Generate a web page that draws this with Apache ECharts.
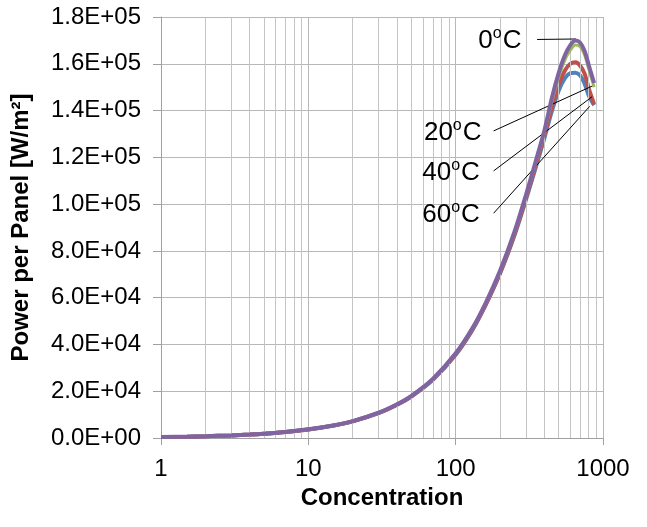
<!DOCTYPE html>
<html>
<head>
<meta charset="utf-8">
<script src="https://cdn.jsdelivr.net/npm/echarts@6/dist/echarts.min.js"></script>
<style>
html,body{margin:0;padding:0;background:#fff;}
#chart{width:647px;height:527px;}
</style>
</head>
<body>
<div id="chart"></div>
<script>
// ---- data ----
const concentration = [1,1.5,2,3,4,5,7,10,15,20,30,40,50,70,100,130,160,200,250,300,350,400,450,500,550,600,650,700,750,800,870];
const power0C  = [380,570,750,1120,1480,1850,2580,3700,5450,7200,10800,14400,18000,25300,36200,47000,57800,71500,88000,104000,118500,131500,145500,156000,163500,168000,169900,169000,165500,159500,151800];
const power20C = [378,567,746,1114,1473,1841,2567,3680,5420,7160,10740,14330,17910,25170,36000,46750,57500,71100,87500,103400,117800,130600,144000,154200,161500,165800,168000,167300,163800,157800,150000];
const power40C = [376,564,742,1109,1465,1832,2554,3660,5400,7130,10690,14250,17820,25050,35800,46500,57200,70700,87000,102700,116900,129500,141500,151000,157000,160000,160600,159200,155800,149500,142700];
const power60C = [374,561,739,1103,1458,1822,2541,3640,5370,7090,10640,14180,17730,24920,35600,46200,56900,70300,86400,101900,115800,128200,139800,148500,153800,156000,156200,155000,151500,146500,142300];
const seriesNames = ['60°C','40°C','20°C','0°C'];
const yTickValues = [0,20000,40000,60000,80000,100000,120000,140000,160000,180000];
const yTickLabels = ['0.0E+00','2.0E+04','4.0E+04','6.0E+04','8.0E+04','1.0E+05','1.2E+05','1.4E+05','1.6E+05','1.8E+05'];
const xTickLabels = {1:'1',10:'10',100:'100',1000:'1000'};
const minorGridX = [2,3,4,5,6,7,8,9,20,30,40,50,60,70,80,90,200,300,400,500,600,700,800,900];
// annotation: label text, label anchor [conc, power], leader line start and end [conc, power]
const annoText = ['0','20','40','60'];
const annoLabelAt = [[282,169800],[151,130600],[147,113500],[147,95500]];
const annoLineFrom = [[357,170400],[181,131300],[181,114200],[181,96100]];
const annoLineTo   = [[655,170600],[874,150900],[843,145900],[812,141800]];

// ---- chart ----
const FONT = 'Liberation Sans, Arial, sans-serif';
const colors = ['#4F81BD','#C0504D','#9BBB59','#8064A2'];
const allSeriesData = [power60C, power40C, power20C, power0C];

function pairs(vals){ return concentration.map((c,i)=>[c, vals[i]]); }

const series = allSeriesData.map((vals,i)=>({
  name: seriesNames[i],
  type: 'line',
  data: pairs(vals),
  smooth: 0.3,
  showSymbol: false,
  symbol: 'none',
  z: 3 + i,
  lineStyle: {color: colors[i], width: i===2 ? 3 : 4},
  itemStyle: {color: colors[i]},
  animation: false,
  silent: true
}));

// minor vertical grid lines
series.push({
  type: 'line', data: [], silent: true, animation: false, z: 1,
  markLine: {
    silent: true, animation: false, symbol: ['none','none'],
    label: {show: false},
    lineStyle: {color: '#c4c4c4', width: 1, type: 'solid'},
    data: minorGridX.map(v=>({xAxis: v}))
  }
});

// annotation leader lines
series.push({
  type: 'line', data: [], silent: true, animation: false, z: 10,
  markLine: {
    silent: true, animation: false, symbol: ['none','none'],
    label: {show: false},
    lineStyle: {color: '#000', width: 1, type: 'solid'},
    data: annoLineFrom.map((p,i)=>[{coord: p},{coord: annoLineTo[i]}])
  }
});

// annotation labels (scatter points with invisible symbols)
series.push({
  type: 'scatter', silent: true, animation: false, z: 11,
  symbolSize: 1,
  itemStyle: {color: '#ffffff', opacity: 0},
  data: annoLabelAt.map((p,i)=>({name: annoText[i], value: p})),
  label: {
    show: true, position: 'left', distance: 0, color: '#000', opacity: 1,
    formatter: p => '{n|' + p.name + '}{s|o}{n|C}',
    rich: {
      n: {fontFamily: FONT, fontSize: 26, color: '#000', lineHeight: 30, opacity: 1},
      s: {fontFamily: FONT, fontSize: 16, color: '#000', verticalAlign: 'top', lineHeight: 30, padding:[0,1,0,0], opacity: 1}
    }
  }
});

const chart = echarts.init(document.getElementById('chart'), null, {renderer: 'canvas'});
chart.setOption({
  animation: false,
  backgroundColor: '#fff',
  grid: {left: 161, right: 44, top: 17, bottom: 89, containLabel: false},
  xAxis: {
    type: 'log', logBase: 10, min: 1, max: 1000,
    name: 'Concentration', nameLocation: 'middle', nameGap: 46,
    nameTextStyle: {fontFamily: FONT, fontSize: 24, fontWeight: 'bold', color: '#000'},
    axisLine: {show: true, lineStyle: {color: '#a0a0a0', width: 1}},
    axisTick: {show: true, length: 7, inside: false, lineStyle: {color: '#a0a0a0'}},
    axisLabel: {fontFamily: FONT, fontSize: 24, color: '#000', margin: 19,
      formatter: v => xTickLabels[Math.round(v)] || ''},
    splitLine: {show: true, lineStyle: {color: '#b8b8b8', width: 1}},
    minorTick: {show: false}
  },
  yAxis: {
    type: 'value', min: 0, max: 180000, interval: 20000,
    name: 'Power per Panel [W/m²]', nameLocation: 'middle', nameGap: 128,
    nameTextStyle: {fontFamily: FONT, fontSize: 24, fontWeight: 'bold', color: '#000'},
    axisLine: {show: true, lineStyle: {color: '#a0a0a0', width: 1}},
    axisTick: {show: true, length: 8, inside: false, lineStyle: {color: '#a0a0a0'}},
    axisLabel: {fontFamily: FONT, fontSize: 24, color: '#000', margin: 20,
      formatter: v => { const k = yTickValues.indexOf(v); return k >= 0 ? yTickLabels[k] : ''; }},
    splitLine: {show: true, lineStyle: {color: '#b8b8b8', width: 1}}
  },
  series: series
});
</script>
</body>
</html>
